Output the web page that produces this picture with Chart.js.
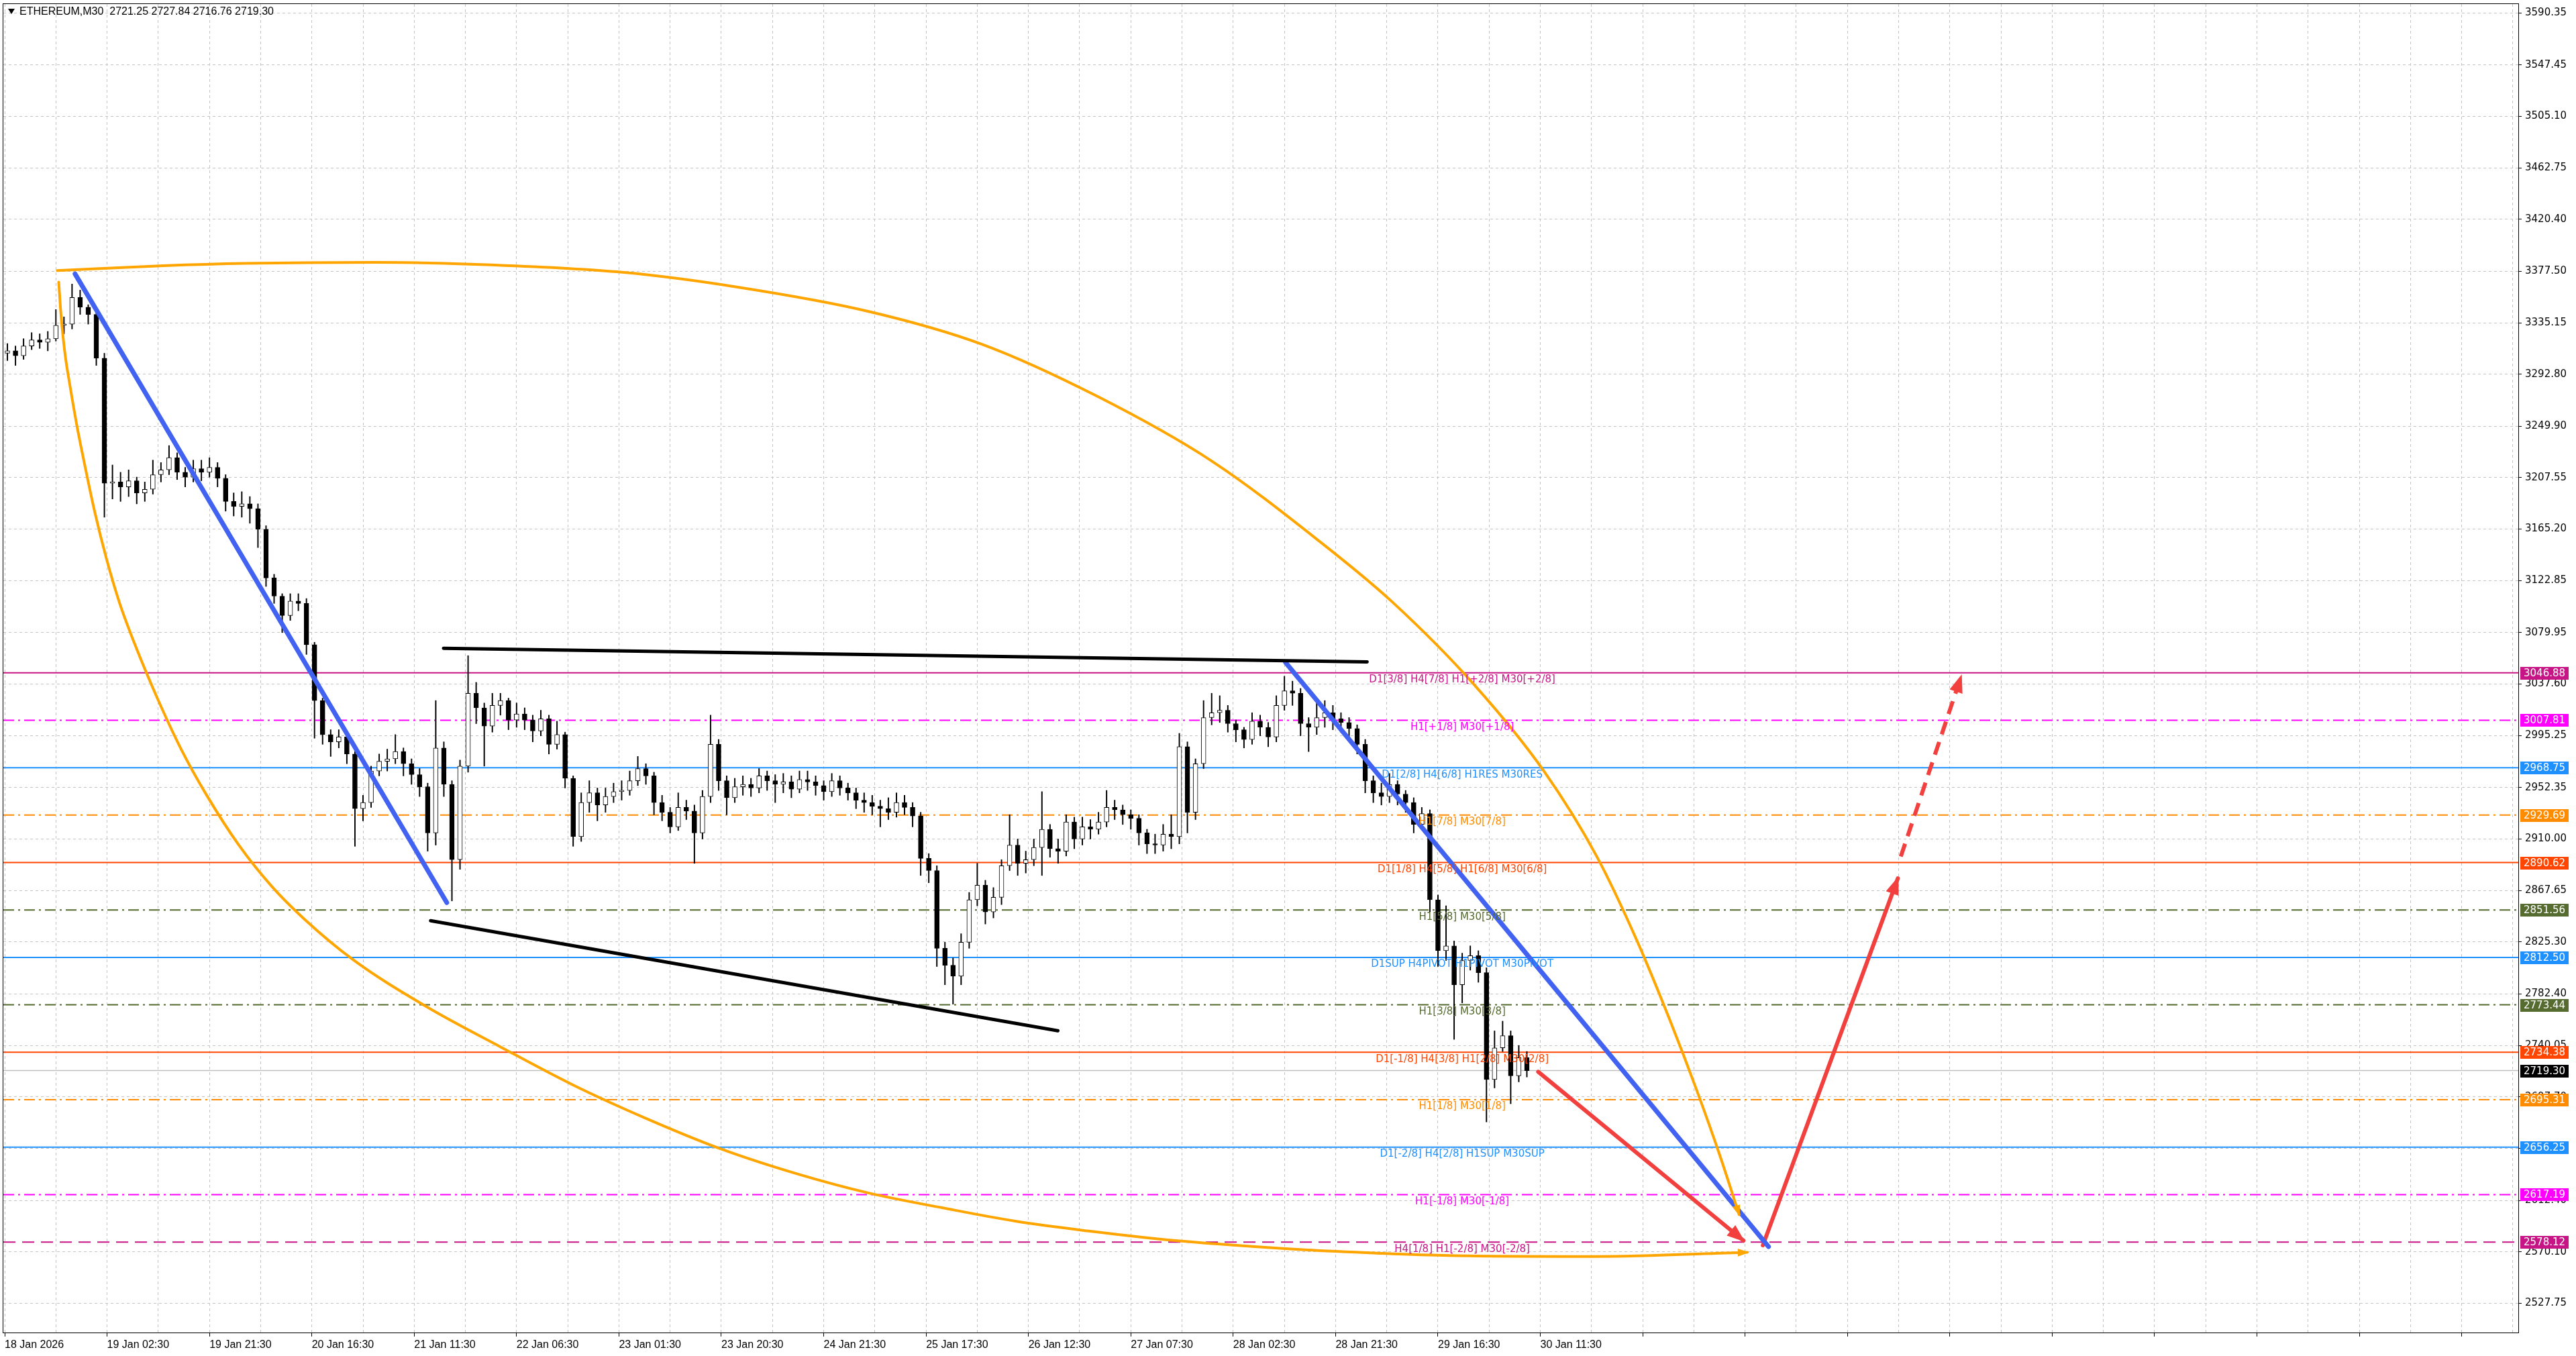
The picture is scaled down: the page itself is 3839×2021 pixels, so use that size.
<!DOCTYPE html>
<html>
<head>
<meta charset="utf-8">
<title>ETHEREUM,M30</title>
<script src="https://cdn.jsdelivr.net/npm/chart.js@4.4.1/dist/chart.umd.min.js"></script>
<style>
  html, body { margin: 0; padding: 0; background: #fff; overflow: hidden; }
  canvas { display: block; }
</style>
</head>
<body>
<canvas id="chart" width="3839" height="2021"></canvas>
<script>
// header of the window
const symbolName = 'ETHEREUM,M30';
const lastBar = [2721.25, 2727.84, 2716.76, 2719.30];

// time axis: one label every 38 bars (M30)
const timeLabels = ['18 Jan 2026', '19 Jan 02:30', '19 Jan 21:30', '20 Jan 16:30', '21 Jan 11:30',
  '22 Jan 06:30', '23 Jan 01:30', '23 Jan 20:30', '24 Jan 21:30', '25 Jan 17:30', '26 Jan 12:30',
  '27 Jan 07:30', '28 Jan 02:30', '28 Jan 21:30', '29 Jan 16:30', '30 Jan 11:30'];
const barsPerLabel = 38;

const priceTicks = [3590.35, 3547.45, 3505.10, 3462.75, 3420.40, 3377.50, 3335.15, 3292.80, 3249.90,
  3207.55, 3165.20, 3122.85, 3079.95, 3037.60, 2995.25, 2952.35, 2910.00, 2867.65, 2825.30, 2782.40,
  2740.05, 2697.70, 2655.35, 2612.40, 2570.10, 2527.75];

// candles, one every 3 bars
const firstOpen = 3310;
const closes = [
  3312, 3308, 3316, 3321, 3319, 3322, 3333, 3334, 3356, 3348,
  3342, 3306, 3203, 3204, 3200, 3205, 3195, 3198, 3210, 3214,
  3224, 3212, 3208, 3215, 3212, 3216, 3207, 3188, 3184, 3186,
  3182, 3165, 3125, 3110, 3094, 3106, 3104, 3070, 3024, 2996,
  2990, 2994, 2980, 2935, 2940, 2966, 2974, 2976, 2982, 2972,
  2963, 2953, 2915, 2985, 2955, 2893, 2970, 3030, 3018, 3003,
  3020, 3024, 3008, 3013, 3008, 2999, 3009, 2988, 2996, 2960,
  2912, 2940, 2948, 2938, 2945, 2949, 2950, 2958, 2968, 2962,
  2940, 2932, 2920, 2936, 2933, 2915, 2945, 2988, 2958, 2944,
  2953, 2955, 2952, 2962, 2958, 2955, 2957, 2951, 2959, 2957,
  2954, 2949, 2958, 2952, 2948, 2942, 2940, 2937, 2935, 2932,
  2940, 2936, 2929, 2894, 2884, 2820, 2806, 2797, 2825, 2860,
  2872, 2850, 2862, 2888, 2905, 2890, 2893, 2903, 2918, 2902,
  2900, 2924, 2910, 2920, 2918, 2924, 2936, 2934, 2930, 2927,
  2915, 2906, 2905, 2914, 2912, 2986, 2932, 2972, 3010, 3014,
  3016, 3005, 3000, 2992, 3007, 3002, 2994, 3020, 3032, 3030,
  3005, 3002, 3010, 3014, 3009, 3006, 3001, 2988, 2958, 2948,
  2945, 2955, 2947, 2940, 2922, 2931, 2860, 2818, 2822, 2790,
  2810, 2814, 2800, 2712, 2738, 2748, 2715, 2730, 2719.30
];
const highs = [
  3318, 3316, 3322, 3327, 3326, 3328, 3346, 3340, 3367, 3362,
  3350, 3348, 3310, 3218, 3212, 3214, 3208, 3204, 3222, 3220,
  3234, 3228, 3216, 3222, 3222, 3224, 3220, 3210, 3195, 3196,
  3192, 3186, 3168, 3128, 3112, 3112, 3112, 3108, 3072, 3026,
  3000, 3000, 2998, 2982, 2946, 2970, 2980, 2984, 2996, 2985,
  2976, 2968, 2956, 3024, 2990, 2958, 2975, 3061, 3039, 3022,
  3030, 3030, 3026, 3022, 3018, 3012, 3016, 3012, 3007, 2998,
  2962, 2948, 2958, 2952, 2952, 2956, 2958, 2966, 2978, 2972,
  2965, 2946, 2936, 2948, 2942, 2938, 2950, 3012, 2992, 2962,
  2960, 2962, 2960, 2968, 2966, 2963, 2964, 2962, 2966, 2966,
  2962, 2958, 2964, 2962, 2956, 2952, 2948, 2946, 2942, 2944,
  2948, 2946, 2940, 2932, 2898, 2888, 2825, 2812, 2832, 2866,
  2890, 2876, 2870, 2893, 2930, 2910, 2900, 2910, 2949, 2922,
  2910, 2930, 2928, 2928, 2926, 2932, 2950, 2942, 2938, 2934,
  2930, 2918, 2914, 2922, 2930, 2997, 2990, 2976, 3024, 3030,
  3028, 3020, 3008, 3002, 3014, 3012, 3006, 3028, 3044, 3040,
  3034, 3010, 3022, 3024, 3020, 3014, 3010, 3004, 2992, 2962,
  2956, 2964, 2958, 2950, 2944, 2936, 2934, 2864, 2855, 2826,
  2816, 2822, 2818, 2804, 2752, 2760, 2752, 2740, 2735
];
const lows = [
  3304, 3300, 3305, 3313, 3314, 3312, 3320, 3326, 3330, 3342,
  3334, 3300, 3175, 3190, 3188, 3192, 3186, 3188, 3194, 3204,
  3210, 3206, 3200, 3204, 3205, 3208, 3200, 3180, 3176, 3175,
  3170, 3150, 3118, 3104, 3080, 3090, 3098, 3062, 2993, 2988,
  2978, 2985, 2972, 2904, 2925, 2936, 2962, 2966, 2972, 2962,
  2955, 2945, 2900, 2905, 2945, 2859, 2885, 2965, 3005, 2970,
  2998, 3012, 3000, 3002, 3000, 2990, 2995, 2980, 2984, 2952,
  2904, 2908, 2932, 2925, 2932, 2940, 2942, 2946, 2954, 2955,
  2930, 2925, 2915, 2917, 2926, 2890, 2910, 2940, 2950, 2930,
  2940, 2946, 2945, 2948, 2950, 2940, 2948, 2944, 2948, 2950,
  2946, 2942, 2945, 2946, 2942, 2935, 2932, 2930, 2920, 2926,
  2928, 2930, 2920, 2880, 2874, 2805, 2790, 2774, 2790, 2820,
  2855, 2840, 2845, 2856, 2884, 2880, 2882, 2888, 2880, 2895,
  2890, 2896, 2902, 2905, 2910, 2914, 2920, 2926, 2922, 2918,
  2905, 2898, 2898, 2900, 2902, 2906, 2915, 2926, 2968, 3004,
  3006, 2998, 2990, 2985, 2988, 2995, 2986, 2990, 3016, 3020,
  2995, 2982, 2996, 3002, 3000, 2998, 2994, 2980, 2948, 2940,
  2938, 2940, 2938, 2932, 2915, 2918, 2850, 2805, 2810, 2745,
  2775, 2802, 2792, 2677, 2705, 2735, 2692, 2710, 2714
];

// Murrey-style levels
const levelPrices = [3046.88, 3007.81, 2968.75, 2929.69, 2890.62, 2851.56, 2812.50,
  2773.44, 2734.38, 2695.31, 2656.25, 2617.19, 2578.12];
const levelNames = [
  'D1[3/8] H4[7/8] H1[+2/8] M30[+2/8]',
  'H1[+1/8] M30[+1/8]',
  'D1[2/8] H4[6/8] H1RES M30RES',
  'H1[7/8] M30[7/8]',
  'D1[1/8] H4[5/8] H1[6/8] M30[6/8]',
  'H1[5/8] M30[5/8]',
  'D1SUP H4PIVOT H1PIVOT M30PIVOT',
  'H1[3/8] M30[3/8]',
  'D1[-1/8] H4[3/8] H1[2/8] M30[2/8]',
  'H1[1/8] M30[1/8]',
  'D1[-2/8] H4[2/8] H1SUP M30SUP',
  'H1[-1/8] M30[-1/8]',
  'H4[1/8] H1[-2/8] M30[-2/8]'
];
const bidPrice = 2719.30;

// hand drawn objects, anchors as [bar, price]
const blueTrend1 = [[26.1, 3375.4], [164.1, 2857.6]];
const blueTrend2 = [[475.4, 3055.4], [654.7, 2574.3]];
const upperChannel = [[162.9, 3067.1], [505.7, 3055.9]];
const lowerChannel = [[158.1, 2842.7], [390.9, 2752.1]];
const redPath1 = [[569.2, 2718.3], [645.4, 2579.3]];
const redPath2 = [[652.6, 2575.4], [702.7, 2877.6]];
const redPath3 = [[703.8, 2895.6], [726.2, 3044.0]];
const orangeArcUpper = [[19.5, 3378.1], [59.0, 3382.1], [89.4, 3384.0], [137.4, 3384.9], [180.5, 3382.8],
  [229.2, 3376.7], [271.7, 3364.6], [321.0, 3344.3], [362.9, 3317.3], [405.5, 3274.6], [448.0, 3221.3],
  [488.1, 3155.0], [514.9, 3105.5], [545.3, 3037.4], [571.4, 2965.7], [590.9, 2895.8], [606.1, 2825.1],
  [618.2, 2760.2], [628.0, 2703.4], [636.5, 2650.3], [643.8, 2600.7]];
const orangeArcLower = [[20.06, 3368.6], [20.67, 3348.3], [21.28, 3332.1], [22.49, 3307.8], [24.32, 3282.1],
  [26.75, 3251.0], [29.79, 3217.2], [33.43, 3179.3], [37.69, 3141.5], [42.55, 3105.0], [48.63, 3068.5],
  [56.53, 3026.6], [65.65, 2983.3], [74.77, 2946.8], [86.93, 2904.9], [99.09, 2871.1], [111.25, 2844.0],
  [129.5, 2810.3], [156.2, 2772.4], [184.2, 2738.6], [210.9, 2707.5], [238.9, 2679.1], [265.7, 2654.9],
  [293.6, 2634.6], [321.0, 2618.3], [348.3, 2606.2], [375.1, 2595.3], [401.8, 2587.3], [428.6, 2580.6],
  [455.3, 2575.7], [482.7, 2571.7], [509.4, 2569.0], [536.2, 2567.0], [590.3, 2566.2], [646.8, 2569.6]];

// styles
const SOLID = [], DASHDOT = [16, 6, 3, 6], DASHED = [18, 10];
const levelStyles = [
  { color: '#C71585', dash: SOLID },
  { color: '#FF00FF', dash: DASHDOT },
  { color: '#1E90FF', dash: SOLID },
  { color: '#FF8C00', dash: DASHDOT },
  { color: '#FF4500', dash: SOLID },
  { color: '#556B2F', dash: DASHDOT },
  { color: '#1E90FF', dash: SOLID },
  { color: '#556B2F', dash: DASHDOT },
  { color: '#FF4500', dash: SOLID },
  { color: '#FF8C00', dash: DASHDOT },
  { color: '#1E90FF', dash: SOLID },
  { color: '#FF00FF', dash: DASHDOT },
  { color: '#C71585', dash: DASHED }
];
const X_MIN = -0.5, X_MAX = 933;
const Y_MIN = 2503.6, Y_MAX = 3597.6;
const labelBar = 541;
const gridBars = [];
for (let b = 0; b <= X_MAX; b += barsPerLabel / 2) gridBars.push(b);

const candleX = closes.map((c, k) => 3 * k + 1);
const opens = closes.map((c, k) => (k === 0 ? firstOpen : closes[k - 1]));

const toXY = (pts) => pts.map(p => ({ x: p[0], y: p[1] }));

const wickData = candleX.map((x, k) => ({ x, y: [lows[k], highs[k]] }));
const bodyData = candleX.map((x, k) => ({ x, y: [Math.min(opens[k], closes[k]), Math.max(opens[k], closes[k])] }));
const bodyFill = closes.map((c, k) => (c >= opens[k] ? '#ffffff' : '#000000'));

const levelSets = levelPrices.map((p, i) => ({
  type: 'line',
  data: [{ x: X_MIN, y: p }, { x: X_MAX, y: p }],
  borderColor: levelStyles[i].color,
  borderDash: levelStyles[i].dash,
  borderWidth: 2,
  pointRadius: 0,
  order: 40
}));
levelSets.push({
  type: 'line',
  data: [{ x: X_MIN, y: bidPrice }, { x: X_MAX, y: bidPrice }],
  borderColor: '#C0C0C0', borderWidth: 1.5, pointRadius: 0, order: 40
});

function objLine(pts, color, width, extra) {
  return Object.assign({
    type: 'line', data: toXY(pts), borderColor: color, borderWidth: width,
    pointRadius: 0, borderCapStyle: 'round', order: 5
  }, extra || {});
}

const datasets = [
  ...levelSets,
  { type: 'bar', data: wickData, backgroundColor: '#000', barThickness: 1.3, grouped: false, order: 30 },
  { type: 'bar', data: bodyData, backgroundColor: bodyFill, borderColor: '#000', borderWidth: 1,
    borderSkipped: false, barThickness: 7, minBarLength: 2, grouped: false, order: 29 },
  objLine(orangeArcUpper, '#FFA500', 4, { cubicInterpolationMode: 'monotone' }),
  objLine(orangeArcLower, '#FFA500', 4, { cubicInterpolationMode: 'monotone' }),
  objLine(upperChannel, '#000000', 5),
  objLine(lowerChannel, '#000000', 5),
  objLine(blueTrend1, '#4262F2', 7),
  objLine(blueTrend2, '#4262F2', 7),
  objLine(redPath1, '#F2403F', 6),
  objLine(redPath2, '#F2403F', 6),
  objLine(redPath3, '#F2403F', 6, { borderDash: [20, 12], borderCapStyle: 'butt' })
];

function arrowHead(ctx, xs, ys, pts, size, color) {
  const a = pts[pts.length - 2], b = pts[pts.length - 1];
  const x1 = xs.getPixelForValue(a[0]), y1 = ys.getPixelForValue(a[1]);
  const x2 = xs.getPixelForValue(b[0]), y2 = ys.getPixelForValue(b[1]);
  const ang = Math.atan2(y2 - y1, x2 - x1);
  const c = Math.cos(ang), s = Math.sin(ang), w = size * 0.42;
  ctx.beginPath();
  ctx.moveTo(x2 + c * 3, y2 + s * 3);
  ctx.lineTo(x2 - size * c + w * s, y2 - size * s - w * c);
  ctx.lineTo(x2 - size * c - w * s, y2 - size * s + w * c);
  ctx.closePath();
  ctx.fillStyle = color;
  ctx.fill();
}

const overlay = {
  id: 'overlay',
  afterDatasetsDraw(chart) {
    const { ctx, chartArea: area, scales: { x, y } } = chart;
    ctx.save();
    // level captions
    ctx.font = '15px "DejaVu Sans"';
    ctx.textAlign = 'center';
    ctx.textBaseline = 'top';
    levelPrices.forEach((p, i) => {
      ctx.fillStyle = levelStyles[i].color;
      ctx.fillText(levelNames[i], x.getPixelForValue(labelBar), y.getPixelForValue(p) + 3);
    });
    // arrow heads
    arrowHead(ctx, x, y, redPath1, 24, '#F2403F');
    arrowHead(ctx, x, y, redPath2, 24, '#F2403F');
    arrowHead(ctx, x, y, redPath3, 24, '#F2403F');
    arrowHead(ctx, x, y, orangeArcUpper, 14, '#FFA500');
    arrowHead(ctx, x, y, orangeArcLower, 14, '#FFA500');
    // frame
    ctx.strokeStyle = '#000';
    ctx.lineWidth = 1;
    ctx.strokeRect(area.left - 0.5, area.top - 0.5, area.right - area.left + 1, area.bottom - area.top + 1);
    // price tags on the axis
    ctx.font = '15px "DejaVu Sans"';
    ctx.textAlign = 'left';
    ctx.textBaseline = 'middle';
    const tags = levelPrices.map((p, i) => [p, levelStyles[i].color]);
    tags.push([bidPrice, '#000000']);
    tags.forEach(([p, col]) => {
      const yy = Math.round(y.getPixelForValue(p));
      ctx.fillStyle = col;
      ctx.fillRect(area.right + 3, yy - 9, 72, 19);
      ctx.fillStyle = '#fff';
      ctx.fillText(p.toFixed(2), area.right + 8, yy + 1);
    });
    // window header
    ctx.fillStyle = '#000';
    ctx.beginPath();
    ctx.moveTo(12, 13); ctx.lineTo(22, 13); ctx.lineTo(17, 21); ctx.closePath();
    ctx.fill();
    ctx.font = '16px "Liberation Sans"';
    ctx.fillText(symbolName + '  ' + lastBar.map(v => v.toFixed(2)).join(' '), 29, 18);
    ctx.restore();
  }
};

new Chart(document.getElementById('chart'), {
  type: 'bar',
  data: { datasets },
  options: {
    responsive: false,
    devicePixelRatio: 1,
    animation: false,
    layout: { padding: { left: 5, top: 6, right: 0, bottom: 0 } },
    plugins: { legend: { display: false }, tooltip: { enabled: false } },
    scales: {
      x: {
        type: 'linear', min: X_MIN, max: X_MAX, offset: false,
        afterFit(s) { s.height = 35; s.paddingLeft = 0; s.paddingRight = 0; },
        afterBuildTicks(s) { s.ticks = gridBars.map(v => ({ value: v })); },
        ticks: {
          autoSkip: false, maxRotation: 0, minRotation: 0, align: 'start', padding: 3,
          color: '#000', font: { family: 'Liberation Sans', size: 16 },
          callback(v) {
            const i = v / barsPerLabel;
            return Number.isInteger(i) && i < timeLabels.length ? timeLabels[i] : '';
          }
        },
        grid: {
          offset: false, color: '#c4c4c4', lineWidth: 1, tickLength: 6,
          tickColor(c) { return c.tick && c.tick.value % barsPerLabel === 0 ? '#000' : 'rgba(0,0,0,0)'; }
        },
        border: { display: true, color: '#000', width: 1, dash: [4, 4] }
      },
      y: {
        type: 'linear', position: 'right', min: Y_MIN, max: Y_MAX,
        afterFit(s) { s.width = 86; s.paddingTop = 0; s.paddingBottom = 0; },
        afterBuildTicks(s) { s.ticks = priceTicks.map(v => ({ value: v })); },
        ticks: {
          autoSkip: false, padding: 5, color: '#000',
          font: { family: 'DejaVu Sans', size: 15 },
          callback(v) { return v.toFixed(2); }
        },
        grid: { color: '#c4c4c4', lineWidth: 1, tickLength: 5, tickColor: '#000' },
        border: { display: true, color: '#000', width: 1, dash: [4, 4] }
      }
    }
  },
  plugins: [overlay]
});
</script>
</body>
</html>
